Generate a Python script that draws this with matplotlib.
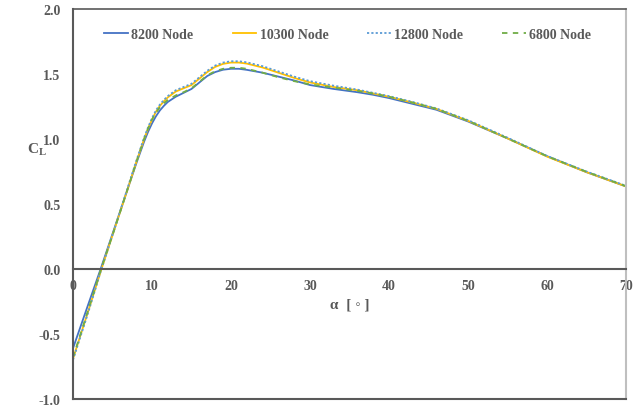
import matplotlib
matplotlib.use("Agg")
import matplotlib.pyplot as plt

alpha = [0, 2, 3.5, 5, 7, 8, 9, 9.5, 10, 10.5, 11, 11.5, 12, 13, 14, 15, 16, 17, 18, 19, 20, 21, 22,
         24, 26, 28, 30, 33, 36, 38, 40, 43, 46, 50, 55, 60, 65, 70]

cl_8200 = [-0.61, -0.26, 0.0, 0.27, 0.63, 0.81, 0.98, 1.055, 1.12, 1.175, 1.22, 1.255, 1.285, 1.325, 1.355, 1.385, 1.435, 1.485, 1.515, 1.533, 1.54, 1.54, 1.532,
           1.51, 1.48, 1.45, 1.415, 1.385, 1.36, 1.34, 1.315, 1.27, 1.225, 1.135, 1.005, 0.868, 0.745, 0.635]
cl_10300 = [-0.69, -0.31, -0.02, 0.26, 0.63, 0.82, 1.00, 1.08, 1.15, 1.21, 1.255, 1.29, 1.32, 1.365, 1.39, 1.415, 1.465, 1.515, 1.555, 1.578, 1.588, 1.588, 1.58,
            1.55, 1.51, 1.47, 1.435, 1.40, 1.375, 1.35, 1.325, 1.28, 1.232, 1.14, 1.005, 0.865, 0.745, 0.635]
cl_12800 = [-0.70, -0.32, -0.02, 0.26, 0.64, 0.83, 1.01, 1.09, 1.16, 1.22, 1.265, 1.30, 1.33, 1.375, 1.40, 1.425, 1.475, 1.525, 1.565, 1.588, 1.598, 1.598, 1.59,
            1.56, 1.52, 1.48, 1.445, 1.41, 1.38, 1.355, 1.33, 1.285, 1.235, 1.145, 1.01, 0.87, 0.75, 0.64]
cl_6800 = [-0.68, -0.30, -0.01, 0.26, 0.63, 0.82, 1.00, 1.08, 1.15, 1.20, 1.245, 1.275, 1.30, 1.335, 1.36, 1.39, 1.44, 1.49, 1.522, 1.54, 1.548, 1.548, 1.54,
           1.51, 1.475, 1.445, 1.42, 1.395, 1.37, 1.35, 1.325, 1.28, 1.232, 1.14, 1.005, 0.868, 0.748, 0.637]

labels = ["8200 Node", "10300 Node", "12800 Node", "6800 Node"]
xticks = [0, 10, 20, 30, 40, 50, 60, 70]
yticks = [-1.0, -0.5, 0.0, 0.5, 1.0, 1.5, 2.0]

grey = "#595959"
plt.rcParams['font.family'] = ['Liberation Serif', 'DejaVu Serif']
plt.rcParams['font.weight'] = 'bold'
plt.rcParams['mathtext.fontset'] = 'custom'
plt.rcParams['mathtext.rm'] = 'Liberation Serif:bold'
plt.rcParams['mathtext.it'] = 'Liberation Serif:bold'
plt.rcParams['mathtext.default'] = 'rm'

fig = plt.figure(figsize=(6.36, 4.10), dpi=100)
ax = fig.add_axes([73/636, 1 - 400/410, 553/636, 390/410])

ax.plot(alpha, cl_8200, color="#4472C4", lw=1.3, label=labels[0])
ax.plot(alpha, cl_10300, color="#FFC000", lw=1.3, label=labels[1])
ax.plot(alpha, cl_12800, color="#5B9BD5", lw=1.3, ls=(0, (1.2, 1.2)), label=labels[2])
ax.plot(alpha, cl_6800, color="#70AD47", lw=1.3, ls=(0, (3, 3)), label=labels[3])

ax.set_xlim(0, 70)
ax.set_ylim(-1.0, 2.0)
ax.set_xticks(xticks)
ax.set_xticklabels([str(v) for v in xticks])
ax.set_yticks(yticks)
ax.set_yticklabels([f"{v:.1f}" for v in yticks])

ax.spines['bottom'].set_position(('data', 0))
ax.spines['bottom'].set_color(grey)
ax.spines['bottom'].set_linewidth(1.5)
ax.spines['left'].set_color(grey)
ax.spines['left'].set_linewidth(1.5)
ax.spines['top'].set_color(grey)
ax.spines['top'].set_linewidth(1.2)
ax.spines['right'].set_color("#BFBFBF")
ax.spines['right'].set_linewidth(1.5)
ax.axhline(-1.0, color=grey, lw=1.5, clip_on=False, zorder=3)

ax.tick_params(axis='both', length=0, labelsize=10, labelcolor=grey)
ax.tick_params(axis='x', pad=7)
ax.tick_params(axis='y', pad=9)

ax.set_xlabel("α  [ ◦ ]", fontsize=11, color=grey, labelpad=4, fontweight='bold')
ax.set_ylabel("C$_{L}$", fontsize=11, color=grey, rotation=0, fontweight='bold')
ax.yaxis.set_label_coords(-0.065, 0.62)

leg = ax.legend(loc='center', bbox_to_anchor=(0.497, 0.935), ncol=4, frameon=False,
                fontsize=10, handlelength=1.7, handletextpad=0.25, columnspacing=2.8,
                labelcolor=grey)

fig.savefig("out.png", dpi=100, facecolor="white")
